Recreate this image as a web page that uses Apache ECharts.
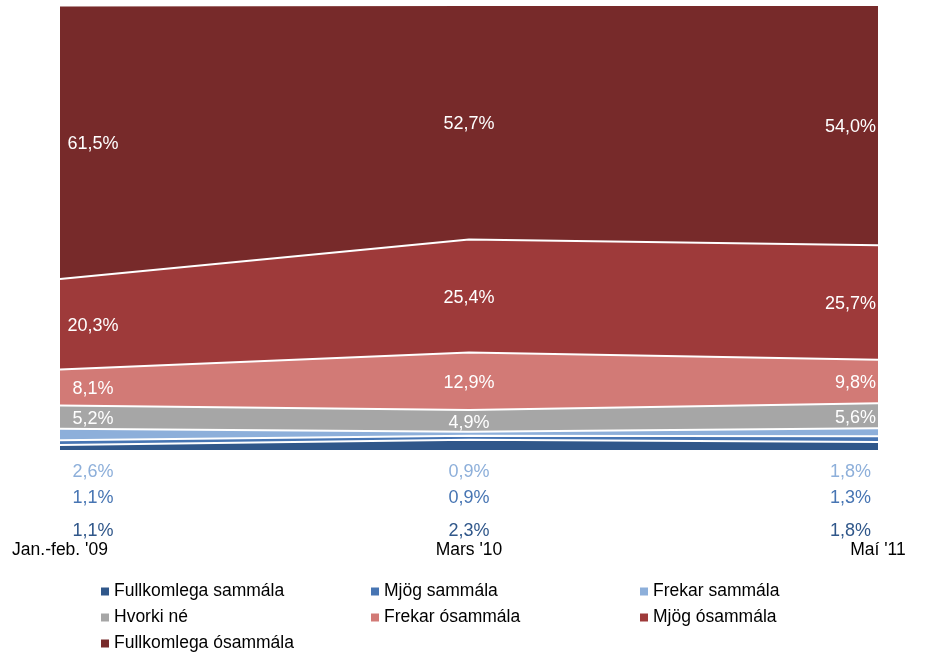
<!DOCTYPE html>
<html>
<head>
<meta charset="utf-8">
<script src="https://cdn.jsdelivr.net/npm/echarts@6/dist/echarts.min.js"></script>
<style>html,body{margin:0;padding:0;background:#fff}#c{width:925px;height:655px}</style>
</head>
<body>
<div id="c"></div>
<script>
var categories = ["Jan.-feb. '09", "Mars '10", "Maí '11"];
var seriesNames = ["Fullkomlega sammála", "Mjög sammála", "Frekar sammála", "Hvorki né", "Frekar ósammála", "Mjög ósammála", "Fullkomlega ósammála"];
var fullkomlegaSammala = [1.1, 2.3, 1.8];
var mjogSammala = [1.1, 0.9, 1.3];
var frekarSammala = [2.6, 0.9, 1.8];
var hvorkiNe = [5.2, 4.9, 5.6];
var frekarOsammala = [8.1, 12.9, 9.8];
var mjogOsammala = [20.3, 25.4, 25.7];
var fullkomlegaOsammala = [61.5, 52.7, 54.0];
var seriesValues = [fullkomlegaSammala, mjogSammala, frekarSammala, hvorkiNe, frekarOsammala, mjogOsammala, fullkomlegaOsammala];
var colors = ["#30578A", "#4775B3", "#8DAFDA", "#A6A6A6", "#D27A76", "#9E3A3A", "#772A2A"];
var outsideOffsets = [81, 48, 22]; // pixel offsets below axis for the three small series labels

var FONT = "Liberation Sans, Arial, sans-serif";

function fmt(v) { return v.toFixed(1).replace('.', ',') + '%'; }

var series = [];
seriesValues.forEach(function (vals, s) {
  series.push({
    name: seriesNames[s],
    type: 'line',
    stack: 'total',
    symbol: 'none',
    data: vals,
    color: colors[s],
    lineStyle: { color: '#ffffff', width: 2 },
    areaStyle: { color: colors[s], opacity: 1 },
    emphasis: { disabled: true },
    animation: false
  });
});

// label data: [catIndex, base, value, seriesIndex]
var labelData = [];
seriesValues.forEach(function (vals, s) {
  vals.forEach(function (v, i) {
    var base = 0;
    for (var k = 0; k < s; k++) base += seriesValues[k][i];
    labelData.push([i, base, v, s]);
  });
});

series.push({
  type: 'custom',
  name: 'labels',
  data: labelData,
  silent: true,
  animation: false,
  z: 10,
  encode: { x: 0, y: 1 },
  renderItem: function (params, api) {
    var i = api.value(0), base = api.value(1), v = api.value(2), s = api.value(3);
    var n = categories.length;
    var inside = s >= 3;
    var pt, fill;
    if (inside) {
      pt = api.coord([i, base + v / 2]);
      pt = [pt[0], pt[1] + 2];
      fill = '#ffffff';
    } else {
      pt = api.coord([i, 0]);
      pt = [pt[0], pt[1] + outsideOffsets[s]];
      fill = colors[s];
    }
    var align = 'center', x = pt[0];
    if (i === 0) { x = pt[0] + 33; }
    else if (i === n - 1) { align = 'right'; x = pt[0] - (inside ? 2 : 7); }
    return {
      type: 'text',
      x: x, y: pt[1],
      style: {
        text: fmt(v),
        fill: fill,
        font: '18px ' + FONT,
        align: align,
        verticalAlign: 'middle'
      }
    };
  }
});

function legend(names, left) {
  return {
    data: names,
    orient: 'vertical',
    left: left,
    top: 582,
    itemWidth: 8,
    itemHeight: 8,
    itemGap: 7,
    icon: 'rect',
    selectedMode: false,
    textStyle: { fontFamily: FONT, fontSize: 17.5, color: '#000', lineHeight: 19, padding: [0, 0, 0, 0] },
    padding: 0
  };
}

var option = {
  backgroundColor: '#ffffff',
  animation: false,
  grid: { left: 60, right: 47, top: 5, bottom: 205, containLabel: false },
  xAxis: {
    type: 'category',
    data: categories,
    boundaryGap: false,
    axisLine: { show: false },
    axisTick: { show: false },
    splitLine: { show: false },
    axisLabel: { margin: 91, color: '#000', fontFamily: FONT, fontSize: 17.5, interval: 0 }
  },
  yAxis: {
    type: 'value',
    min: 0,
    max: 100,
    show: false
  },
  legend: [
    legend([seriesNames[0], seriesNames[3], seriesNames[6]], 101),
    legend([seriesNames[1], seriesNames[4]], 371),
    legend([seriesNames[2], seriesNames[5]], 640)
  ],
  series: series
};

var chart = echarts.init(document.getElementById('c'), null, { renderer: 'canvas' });
chart.setOption(option);
</script>
</body>
</html>
